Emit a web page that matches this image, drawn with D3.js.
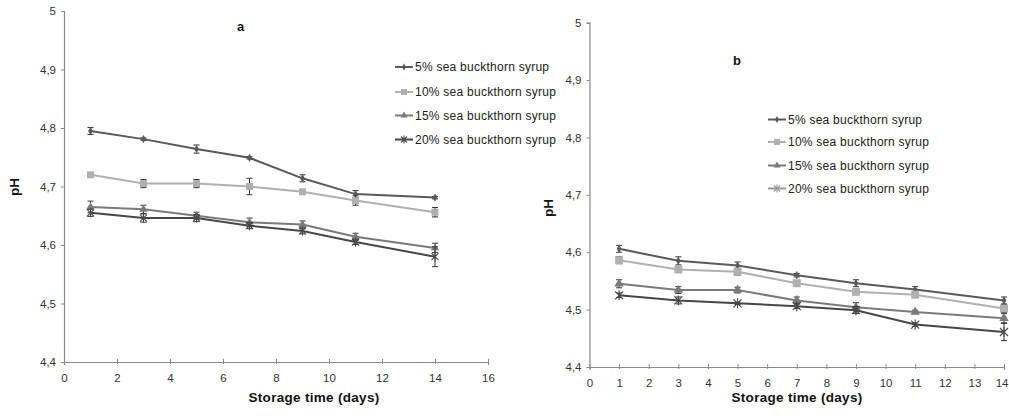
<!DOCTYPE html>
<html>
<head>
<meta charset="utf-8">
<script src="https://cdn.jsdelivr.net/npm/d3@7"></script>
<style>
  html, body { margin: 0; padding: 0; background: #fff; }
  svg { display: block; font-family: "Liberation Sans", Arial, sans-serif; }
</style>
</head>
<body>
<svg id="chart" width="1009" height="419"></svg>
<script>
// Storage days
const days = [1, 3, 5, 7, 9, 11, 14];

// Panel a: pH means and standard deviations
const a5 = [4.795, 4.781, 4.764, 4.749, 4.714, 4.687, 4.681];
const a10 = [4.720, 4.705, 4.705, 4.700, 4.691, 4.676, 4.656];
const a15 = [4.665, 4.661, 4.650, 4.639, 4.635, 4.614, 4.595];
const a20 = [4.655, 4.646, 4.646, 4.633, 4.624, 4.605, 4.580];
const a5err = [0.006, 0.002, 0.007, 0.002, 0.006, 0.006, 0.002];
const a10err = [0.002, 0.007, 0.007, 0.014, 0.002, 0.008, 0.008];
const a15err = [0.010, 0.007, 0.006, 0.007, 0.006, 0.006, 0.008];
const a20err = [0.006, 0.007, 0.006, 0.005, 0.005, 0.004, 0.017];

// Panel b: pH means and standard deviations
const b5 = [4.606, 4.585, 4.577, 4.560, 4.546, 4.535, 4.516];
const b10 = [4.586, 4.570, 4.566, 4.546, 4.531, 4.526, 4.502];
const b15 = [4.545, 4.534, 4.534, 4.516, 4.504, 4.496, 4.485];
const b20 = [4.525, 4.516, 4.511, 4.506, 4.499, 4.474, 4.461];
const b5err = [0.006, 0.007, 0.006, 0.003, 0.006, 0.005, 0.006];
const b10err = [0.006, 0.003, 0.006, 0.004, 0.003, 0.003, 0.007];
const b15err = [0.007, 0.006, 0.005, 0.006, 0.008, 0.003, 0.008];
const b20err = [0.004, 0.006, 0.002, 0.004, 0.006, 0.003, 0.015];

const seriesNames = ["5% sea buckthorn syrup", "10% sea buckthorn syrup",
                     "15% sea buckthorn syrup", "20% sea buckthorn syrup"];
const yTicks = [4.4, 4.5, 4.6, 4.7, 4.8, 4.9, 5];
const xTicksA = [0, 2, 4, 6, 8, 10, 12, 14, 16];
const xTicksB = [0, 1, 2, 3, 4, 5, 6, 7, 8, 9, 10, 11, 12, 13, 14];

const styles = [
  { color: "#5a5a5a", marker: "diamond" },
  { color: "#b0b0b0", marker: "square" },
  { color: "#7a7a7a", marker: "triangle" },
  { color: "#474747", marker: "x" }
];

const svg = d3.select("#chart");
const fmt = v => d3.format(".1f")(v).replace(".", ",").replace(/,0$/, "");

function marker(g, type, x, y, color, size) {
  if (type === "x") {
    const s = size * 0.5;
    g.append("path")
      .attr("d", `M${x - s},${y - s}L${x + s},${y + s}M${x - s},${y + s}L${x + s},${y - s}M${x},${y - s - 1}L${x},${y + s + 1}`)
      .attr("stroke", color).attr("stroke-width", 1.1).attr("fill", "none");
    return;
  }
  const sym = type === "diamond" ? d3.symbolDiamond : type === "square" ? d3.symbolSquare : d3.symbolTriangle;
  const area = type === "diamond" ? size * size * 0.55 : type === "square" ? size * size : size * size * 0.6;
  g.append("path")
    .attr("d", d3.symbol().type(sym).size(area)())
    .attr("transform", `translate(${x},${y})`)
    .attr("fill", color);
}

function panel(cfg) {
  const x = d3.scaleLinear().domain(cfg.xDomain).range(cfg.xRange);
  const y = d3.scaleLinear().domain([4.4, 5]).range(cfg.yRange);
  const g = svg.append("g");

  // y axis
  const ya = g.append("g").attr("transform", `translate(${cfg.xRange[0]},0)`)
    .call(d3.axisLeft(y).tickValues(yTicks).tickFormat(fmt).tickSize(3).tickPadding(5));
  // x axis
  const xa = g.append("g").attr("transform", `translate(0,${cfg.yRange[0]})`)
    .call(d3.axisBottom(x).tickValues(cfg.xTicks).tickFormat(d3.format("d")).tickSize(3).tickPadding(9));
  [ya, xa].forEach(ax => {
    ax.select(".domain").attr("stroke", "#8a8a8a").attr("stroke-width", 1.2);
    ax.selectAll(".tick line").attr("stroke", "#8a8a8a");
    ax.selectAll("text").attr("fill", "#333").attr("font-size", 11.5).attr("font-family", "Liberation Sans, Arial, sans-serif");
  });
  xa.selectAll(".tick line").attr("y1", -3).attr("y2", 2);
  // keep the last x label inside the page edge
  if (cfg.lastLabelEnd) {
    xa.selectAll(".tick text").filter(d => d === cfg.xDomain[1])
      .attr("text-anchor", "end").attr("dx", 4);
  }

  const line = d3.line().x((d, i) => x(days[i])).y(d => y(d));
  cfg.series.forEach((vals, si) => {
    const st = styles[si];
    const errs = cfg.errors[si];
    g.append("path").datum(vals).attr("d", line)
      .attr("fill", "none").attr("stroke", st.color).attr("stroke-width", 2);
    vals.forEach((v, i) => {
      const cx = x(days[i]);
      const e = errs[i];
      const y0 = y(v - e), y1 = y(v + e);
      g.append("path")
        .attr("d", `M${cx},${y0}V${y1}M${cx - 3},${y0}H${cx + 3}M${cx - 3},${y1}H${cx + 3}`)
        .attr("stroke", "#333").attr("stroke-width", 1).attr("fill", "none");
      marker(g, st.marker, cx, y(v), st.color, cfg.markerSize[si]);
    });
  });

  // panel letter
  g.append("text").attr("x", cfg.letterPos[0]).attr("y", cfg.letterPos[1])
    .attr("font-weight", "bold").attr("font-size", 13).attr("fill", "#111")
    .text(cfg.letter);

  // axis titles
  g.append("text")
    .attr("transform", `translate(${cfg.yTitlePos[0]},${cfg.yTitlePos[1]}) rotate(-90)`)
    .attr("text-anchor", "middle").attr("font-weight", "bold").attr("font-size", 13.5).attr("fill", "#111")
    .text("pH");
  g.append("text").attr("x", cfg.xTitlePos[0]).attr("y", cfg.xTitlePos[1])
    .attr("text-anchor", "middle").attr("font-weight", "bold").attr("font-size", 13.5)
    .attr("letter-spacing", 0.3).attr("fill", "#111")
    .text("Storage time (days)");

  // legend
  const lg = g.append("g");
  seriesNames.forEach((name, si) => {
    const st = styles[si];
    const ly = cfg.legendRows[si];
    const lx = cfg.legendX;
    const lc = cfg.legendColors ? cfg.legendColors[si] : st.color;
    lg.append("line").attr("x1", lx).attr("x2", lx + 18).attr("y1", ly).attr("y2", ly)
      .attr("stroke", lc).attr("stroke-width", 2);
    marker(lg, st.marker, lx + 9, ly, lc, cfg.legendMarker[si]);
    lg.append("text").attr("x", lx + 20).attr("y", ly + 4)
      .attr("font-size", 12).attr("letter-spacing", 0.25).attr("fill", "#222")
      .text(name);
  });
}

panel({
  xDomain: [0, 16], xRange: [64, 488], yRange: [362, 11],
  xTicks: xTicksA,
  series: [a5, a10, a15, a20], errors: [a5err, a10err, a15err, a20err],
  markerSize: [6, 7, 7, 7],
  letter: "a", letterPos: [237, 31],
  yTitlePos: [19, 187], xTitlePos: [314, 402],
  legendX: 395, legendRows: [67, 92, 115.5, 139.5],
  legendMarker: [5, 6, 6, 6]
});

panel({
  xDomain: [0, 14], xRange: [589.5, 1004], yRange: [367, 22.7],
  xTicks: xTicksB, lastLabelEnd: true,
  series: [b5, b10, b15, b20], errors: [b5err, b10err, b15err, b20err],
  markerSize: [6, 8, 8, 8],
  letter: "b", letterPos: [733, 65],
  yTitlePos: [553, 208], xTitlePos: [797, 402],
  legendX: 768, legendRows: [119.5, 142, 165.5, 188.5],
  legendColors: ["#5a5a5a", "#b0b0b0", "#7a7a7a", "#9a9a9a"],
  legendMarker: [5, 6, 6, 6]
});
</script>
</body>
</html>
